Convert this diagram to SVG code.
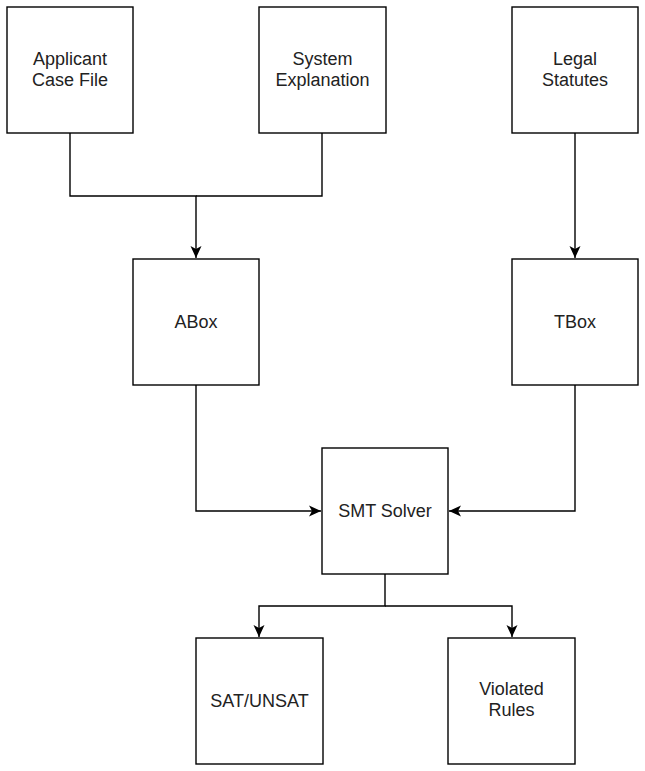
<svg xmlns="http://www.w3.org/2000/svg" width="645" height="771" viewBox="0 0 645 771">
  <style>
    .box { fill: #ffffff; stroke: #000000; stroke-width: 1.4; }
    .lbl { font-family: "Liberation Sans", Arial, sans-serif; font-size: 18px; fill: #222222; text-anchor: middle; }
    .edge { fill: none; stroke: #000000; stroke-width: 1.4; }
  </style>
  <defs>
    <marker id="arrow" markerUnits="userSpaceOnUse" viewBox="0 0 12 12" refX="12" refY="6" markerWidth="12" markerHeight="12" orient="auto">
      <path d="M0,0.5 L12,6 L0,11.5 L3,6 Z" fill="#000000"/>
    </marker>
  </defs>
  <rect width="645" height="771" fill="#ffffff"/>

  <g id="connectors">
    <path class="edge" d="M70,133 V196 H196 V258" marker-end="url(#arrow)"/>
    <path class="edge" d="M322,133 V196 H196"/>
    <path class="edge" d="M575,133 V258" marker-end="url(#arrow)"/>
    <path class="edge" d="M196,385 V511 H321" marker-end="url(#arrow)"/>
    <path class="edge" d="M575,385 V511 H449" marker-end="url(#arrow)"/>
    <path class="edge" d="M385,574 V606 H259 V637" marker-end="url(#arrow)"/>
    <path class="edge" d="M385,606 H512 V637" marker-end="url(#arrow)"/>
  </g>

  <g id="applicant">
    <rect class="box" x="7" y="7" width="126" height="126"/>
    <text class="lbl" x="70" y="65">Applicant</text>
    <text class="lbl" x="70" y="86">Case File</text>
  </g>
  <g id="system">
    <rect class="box" x="259" y="7" width="127" height="126"/>
    <text class="lbl" x="322.5" y="65">System</text>
    <text class="lbl" x="322.5" y="86">Explanation</text>
  </g>
  <g id="legal">
    <rect class="box" x="512" y="7" width="126" height="126"/>
    <text class="lbl" x="575" y="65">Legal</text>
    <text class="lbl" x="575" y="86">Statutes</text>
  </g>
  <g id="abox">
    <rect class="box" x="133" y="259" width="126" height="126"/>
    <text class="lbl" x="196" y="328">ABox</text>
  </g>
  <g id="tbox">
    <rect class="box" x="512" y="259" width="126" height="126"/>
    <text class="lbl" x="575" y="328">TBox</text>
  </g>
  <g id="smt">
    <rect class="box" x="322" y="448" width="126" height="126"/>
    <text class="lbl" x="385" y="517">SMT Solver</text>
  </g>
  <g id="sat">
    <rect class="box" x="196" y="638" width="127" height="126"/>
    <text class="lbl" x="259.5" y="707">SAT/UNSAT</text>
  </g>
  <g id="violated">
    <rect class="box" x="448" y="638" width="127" height="126"/>
    <text class="lbl" x="511.5" y="695">Violated</text>
    <text class="lbl" x="511.5" y="716">Rules</text>
  </g>
</svg>
